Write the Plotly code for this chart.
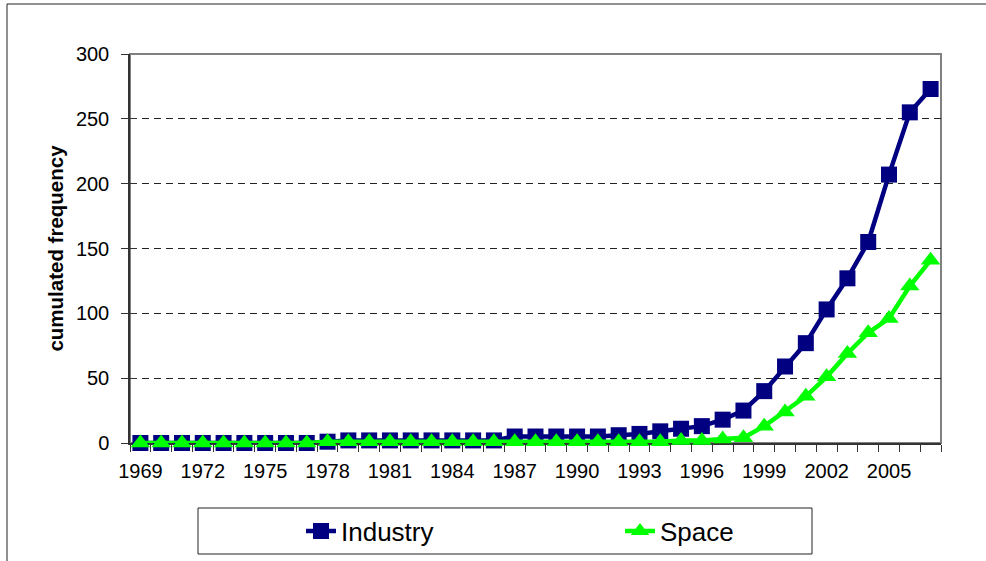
import plotly.graph_objects as go

# Years on the category axis
years = [1969, 1970, 1971, 1972, 1973, 1974, 1975, 1976, 1977, 1978,
         1979, 1980, 1981, 1982, 1983, 1984, 1985, 1986, 1987, 1988,
         1989, 1990, 1991, 1992, 1993, 1994, 1995, 1996, 1997, 1998,
         1999, 2000, 2001, 2002, 2003, 2004, 2005, 2006, 2007]

# Cumulated frequency per year
industry = [0, 0, 0, 0, 0, 0, 0, 0, 0, 1,
            2, 2, 2, 2, 2, 2, 2, 2, 5, 5,
            5, 5, 5, 6, 7, 9, 11, 13, 18, 25,
            40, 59, 77, 103, 127, 155, 207, 255, 273]
space = [0, 0, 0, 0, 0, 0, 0, 0, 0, 1,
         1, 1, 1, 1, 1, 1, 1, 1, 1, 1,
         1, 1, 1, 1, 1, 1, 2, 2, 3, 4,
         13, 24, 36, 51, 69, 85, 96, 121, 141]

series_names = ["Industry", "Space"]
y_title = "cumulated frequency"

FONT = "Arial, Liberation Sans, sans-serif"
W, H = 986, 561
ML, MR, MT, MB = 130, 45, 54, 118
PW, PH = W - ML - MR, H - MT - MB


def px_x(p):
    return (p - ML) / PW


def px_y(p):
    return (H - MB - p) / PH


fig = go.Figure()
fig.add_trace(go.Scatter(
    x=years, y=industry, name=series_names[0], mode="lines+markers",
    line=dict(color="#000080", width=4.5),
    marker=dict(symbol="square", size=16, color="#000080"),
    cliponaxis=False,
))
fig.add_trace(go.Scatter(
    x=years, y=space, name=series_names[1], mode="lines+markers",
    line=dict(color="#00FF00", width=4.5),
    marker=dict(symbol="triangle-up", size=17, color="#00FF00"),
    cliponaxis=False,
))
# empty trace so the overlay axis (inner half of the cross ticks) is drawn
fig.add_trace(go.Scatter(x=[], y=[], yaxis="y2", showlegend=False, hoverinfo="skip"))

fig.update_layout(
    width=W, height=H,
    margin=dict(l=ML, r=MR, t=MT, b=MB, pad=0, autoexpand=False),
    paper_bgcolor="white", plot_bgcolor="white",
    font=dict(family=FONT, size=20, color="black"),
    showlegend=True,
    legend=dict(
        orientation="h", xref="container", x=301 / W, xanchor="left",
        yref="container", y=1 - 531 / H, yanchor="middle",
        font=dict(family=FONT, size=26, color="black"),
        entrywidth=274, bgcolor="rgba(0,0,0,0)", borderwidth=0,
    ),
    xaxis=dict(
        range=[1968.5, 2007.5], tickmode="linear", tick0=1969, dtick=3,
        ticks="", showgrid=False, zeroline=False, automargin=False,
        showline=True, linecolor="#333333", linewidth=1.5,
        tickfont=dict(family=FONT, size=20, color="black"),
        ticklabelstandoff=9,
        minor=dict(ticks="outside", ticklen=7, tickwidth=1, tickcolor="#333333",
                   tick0=1968.5, dtick=1, showgrid=False),
        layer="below traces",
    ),
    yaxis=dict(
        range=[0, 300], tickmode="linear", tick0=0, dtick=50,
        ticks="outside", ticklen=7, tickwidth=1, tickcolor="#333333",
        showgrid=True, gridcolor="#222222", gridwidth=1, griddash="7px,5px",
        zeroline=False, showline=True, linecolor="#333333", linewidth=1.5,
        automargin=False,
        tickfont=dict(family=FONT, size=20, color="black"),
        ticklabelstandoff=8,
        title=dict(text="<b>" + y_title + "</b>", standoff=7,
                   font=dict(family=FONT, size=20.5, color="black")),
        layer="below traces",
    ),
    yaxis2=dict(
        range=[0, 300], overlaying="y", side="left", tickmode="linear",
        tick0=0, dtick=50, ticks="inside", ticklen=7, tickwidth=1,
        tickcolor="#333333", showticklabels=False, showgrid=False,
        zeroline=False, showline=False, automargin=False,
    ),
    shapes=[
        # plot area frame
        dict(type="rect", xref="paper", yref="paper", x0=0, x1=1, y0=0, y1=1,
             line=dict(color="#808080", width=2), layer="between"),
        # legend frame
        dict(type="rect", xref="paper", yref="paper",
             x0=px_x(198), x1=px_x(812), y0=px_y(554), y1=px_y(508),
             line=dict(color="#222222", width=1)),
        # chart frame
        dict(type="rect", xref="paper", yref="paper",
             x0=px_x(7), x1=px_x(1010), y0=px_y(580), y1=px_y(4),
             line=dict(color="#222222", width=1)),
    ],
)

fig.write_html("out.html")
